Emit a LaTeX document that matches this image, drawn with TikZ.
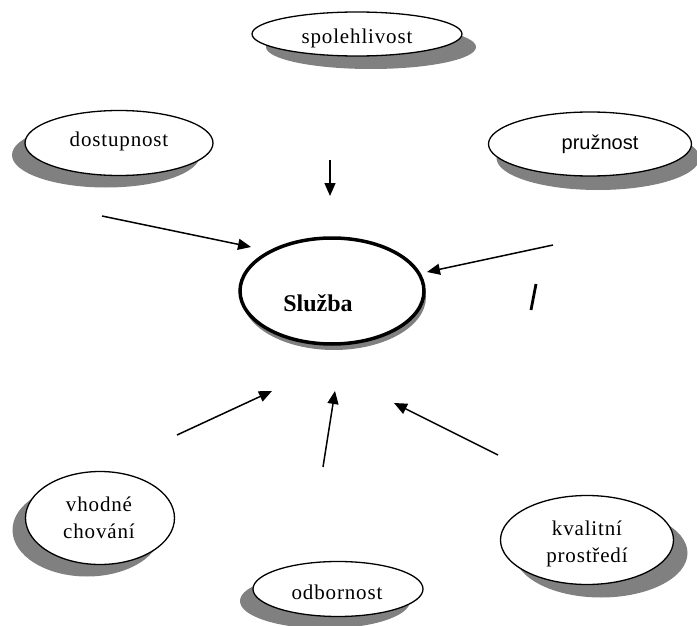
\documentclass[tikz,border=0pt]{standalone}
\usepackage{fontspec}
\setmainfont{Liberation Serif}
\newfontfamily\txtfont{Liberation Serif}[LetterSpace=4]
\newfontfamily\sanstxt{Liberation Sans}
\usetikzlibrary{shapes.geometric,shadows,arrows.meta}
\begin{document}
\begin{tikzpicture}[x=1pt,y=-1pt,
  bub/.style={ellipse, draw=black, line width=1.3pt, fill=white, inner sep=0pt},
  shR/.style={drop shadow={shadow xshift=14pt,shadow yshift=-13pt,fill=black!50,opacity=1}},
  shL/.style={drop shadow={shadow xshift=-13pt,shadow yshift=-12pt,fill=black!50,opacity=1}},
  lbl/.style={font=\txtfont\fontsize{21}{27}\selectfont, align=center, inner sep=0pt},
  arr/.style={-{Triangle[length=13pt,width=11pt]}, line width=1.5pt}]
\useasboundingbox[fill=white] (0,0) rectangle (697,626);

% ellipses
\node[bub, shR, minimum width=210pt, minimum height=44pt] (spol) at (357,34) {};
\node[bub, shL, minimum width=188pt, minimum height=65pt] (dost) at (119,143) {};
\node[bub, drop shadow={shadow xshift=8pt,shadow yshift=-14pt,fill=black!50,opacity=1}, minimum width=203pt, minimum height=64pt] (pruz) at (590,144) {};
\node[bub, drop shadow={shadow xshift=2pt,shadow yshift=-6pt,fill=black!50,opacity=1}, line width=3.5pt, minimum width=184pt, minimum height=106pt] (sluz) at (332,291) {};
\node[bub, shL, minimum width=149pt, minimum height=93pt] (vhod) at (100,518) {};
\node[bub, shR, minimum width=173pt, minimum height=89pt] (kval) at (587,540) {};
\node[bub, shL, minimum width=170pt, minimum height=55pt] (odbo) at (338,589) {};

% texts
\node[lbl] (tspol) at (357,38) {spolehlivost};
\node[lbl] (tdost) at (119,141) {dostupnost};
\node[lbl, font=\sanstxt\fontsize{20}{24}\selectfont] (tpruz) at (600,144) {pružnost};
\node[lbl, font=\bfseries\fontsize{24}{28}\selectfont] (tsluz) at (318,303) {Služba};
\node[lbl] (tvhod) at (99,518) {vhodné\\chování};
\node[lbl] (tkval) at (587,544) {kvalitní\\prostředí};
\node[lbl] (todbo) at (337,592) {odbornost};

% arrow endpoints
\coordinate (a1s) at (330,160); \coordinate (a1e) at (330,196);
\coordinate (a2s) at (102,216); \coordinate (a2e) at (251,247);
\coordinate (a3s) at (553,245); \coordinate (a3e) at (427,272);
\coordinate (a4s) at (177,435); \coordinate (a4e) at (272,391);
\coordinate (a5s) at (323,467); \coordinate (a5e) at (335,391);
\coordinate (a6s) at (498,455); \coordinate (a6e) at (394,403);
\coordinate (m1) at (536,284); \coordinate (m2) at (531,310);

\draw[arr] (a1s) -- (a1e);
\draw[arr] (a2s) -- (a2e);
\draw[arr] (a3s) -- (a3e);
\draw[arr] (a4s) -- (a4e);
\draw[arr] (a5s) -- (a5e);
\draw[arr] (a6s) -- (a6e);
\draw[line width=2.8pt] (m1) -- (m2);
\end{tikzpicture}
\end{document}
